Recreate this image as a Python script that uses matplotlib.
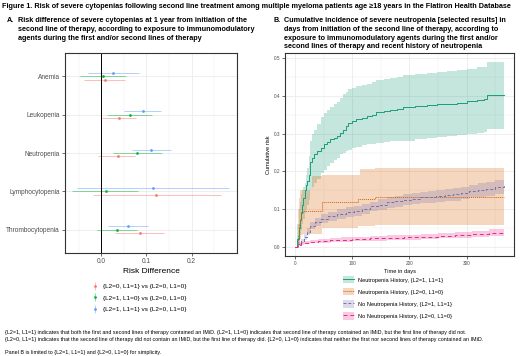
import numpy as np
import matplotlib
matplotlib.use("Agg")
import matplotlib.pyplot as plt
from matplotlib.lines import Line2D
from matplotlib.patches import Patch
from matplotlib.ticker import MultipleLocator

plt.rcParams['font.family'] = ['Liberation Sans', 'DejaVu Sans']

# ---------------- Panel A data ----------------
categories = ["Anemia", "Leukopenia", "Neutropenia", "Lymphocytopenia", "Thrombocytopenia"]
comparisons = ["{L2=0, L1=1} vs {L2=0, L1=0}",
               "{L2=1, L1=0} vs {L2=0, L1=0}",
               "{L2=1, L1=1} vs {L2=0, L1=0}"]
red_est = [0.009, 0.040, 0.036, 0.122, 0.086]
red_lo = [-0.037, 0.001, -0.007, -0.018, 0.031]
red_hi = [0.053, 0.076, 0.075, 0.264, 0.138]
green_est = [0.003, 0.064, 0.080, 0.010, 0.034]
green_lo = [-0.046, 0.012, 0.027, -0.064, -0.010]
green_hi = [0.054, 0.112, 0.135, 0.082, 0.078]
blue_est = [0.027, 0.092, 0.111, 0.114, 0.059]
blue_lo = [-0.030, 0.051, 0.069, -0.053, 0.014]
blue_hi = [0.084, 0.133, 0.155, 0.282, 0.103]

# ---------------- Panel B data ----------------
series_labels = ["Neutropenia History, {L2=1, L1=1}",
                 "Neutropenia History, {L2=0, L1=0}",
                 "No Neutropenia History, {L2=1, L1=1}",
                 "No Neutropenia History, {L2=0, L1=0}"]

nh11_t = [0, 3, 6, 8, 10, 12, 14, 16, 18, 20, 23, 25, 29, 33, 38, 44, 50, 55, 61, 67, 73, 79, 84, 88, 93,
          100, 107, 116, 125, 134, 142, 155, 166, 178, 189, 210, 230, 248, 265, 283, 300, 318, 330, 336, 366]
nh11_est = [0, 0.02, 0.05, 0.07, 0.09, 0.11, 0.13, 0.15, 0.165, 0.175, 0.19, 0.225, 0.235, 0.245, 0.255,
            0.262, 0.272, 0.278, 0.285, 0.29, 0.295, 0.302, 0.31, 0.32, 0.328, 0.333, 0.34, 0.343, 0.347,
            0.35, 0.357, 0.36, 0.363, 0.367, 0.372, 0.374, 0.376, 0.378, 0.38, 0.383, 0.387, 0.39, 0.393,
            0.403, 0.404]
nh11_lo = [0, 0.0, 0.01, 0.03, 0.045, 0.06, 0.075, 0.09, 0.10, 0.11, 0.125, 0.15, 0.16, 0.168, 0.18,
           0.195, 0.205, 0.214, 0.222, 0.23, 0.236, 0.245, 0.25, 0.253, 0.258, 0.262, 0.266, 0.27, 0.272,
           0.274, 0.276, 0.277, 0.28, 0.281, 0.282, 0.285, 0.289, 0.291, 0.293, 0.296, 0.299, 0.302, 0.304,
           0.313, 0.315]
nh11_hi = [0, 0.06, 0.10, 0.12, 0.14, 0.15, 0.16, 0.17, 0.19, 0.21, 0.24, 0.28, 0.30, 0.31, 0.325,
           0.345, 0.355, 0.362, 0.37, 0.378, 0.385, 0.395, 0.405, 0.412, 0.42, 0.422, 0.426, 0.429, 0.432,
           0.437, 0.442, 0.445, 0.448, 0.452, 0.455, 0.458, 0.462, 0.464, 0.467, 0.47, 0.473, 0.476, 0.478,
           0.49, 0.49]

nh00_t = [0, 4, 6, 8, 10, 13, 29, 46, 110, 113, 140, 366]
nh00_est = [0, 0.03, 0.06, 0.075, 0.093, 0.096, 0.096, 0.12, 0.128, 0.128, 0.133, 0.133]
nh00_lo = [0, 0.0, 0.01, 0.02, 0.03, 0.033, 0.035, 0.05, 0.056, 0.056, 0.058, 0.058]
nh00_hi = [0, 0.10, 0.13, 0.15, 0.15, 0.152, 0.188, 0.19, 0.19, 0.207, 0.21, 0.21]

nn11_t = [0, 5, 10, 15, 20, 26, 35, 44, 58, 73, 88, 102, 116, 131, 145, 160, 175, 189, 204, 218, 233,
          247, 262, 276, 290, 305, 320, 335, 350, 366]
nn11_est = [0, 0.008, 0.015, 0.025, 0.04, 0.056, 0.066, 0.074, 0.081, 0.087, 0.092, 0.096, 0.101, 0.107,
            0.112, 0.118, 0.121, 0.125, 0.128, 0.131, 0.133, 0.135, 0.137, 0.139, 0.143, 0.148, 0.151,
            0.154, 0.158, 0.163]
nn11_lo = [0, 0.004, 0.009, 0.017, 0.031, 0.046, 0.055, 0.062, 0.069, 0.075, 0.079, 0.083, 0.088, 0.094,
           0.098, 0.104, 0.106, 0.11, 0.113, 0.116, 0.117, 0.119, 0.121, 0.122, 0.126, 0.131, 0.133,
           0.136, 0.14, 0.144]
nn11_hi = [0, 0.012, 0.021, 0.033, 0.049, 0.066, 0.077, 0.086, 0.093, 0.099, 0.105, 0.109, 0.114, 0.12,
           0.126, 0.132, 0.136, 0.14, 0.143, 0.146, 0.149, 0.151, 0.153, 0.156, 0.16, 0.165, 0.169,
           0.172, 0.176, 0.182]

nn00_t = [0, 3, 6, 10, 15, 25, 40, 60, 80, 100, 130, 160, 190, 220, 250, 280, 310, 340, 366]
nn00_est = [0, 0.003, 0.006, 0.009, 0.011, 0.013, 0.015, 0.017, 0.019, 0.02, 0.022, 0.024, 0.025, 0.027,
            0.029, 0.031, 0.034, 0.037, 0.04]
nn00_lo = [0, 0.001, 0.003, 0.005, 0.007, 0.009, 0.01, 0.012, 0.013, 0.014, 0.016, 0.017, 0.018, 0.02,
           0.022, 0.023, 0.026, 0.029, 0.031]
nn00_hi = [0, 0.005, 0.009, 0.013, 0.015, 0.018, 0.02, 0.022, 0.025, 0.026, 0.028, 0.031, 0.032, 0.034,
           0.037, 0.04, 0.043, 0.046, 0.05]

W, H = 520, 356
fig = plt.figure(figsize=(W / 100, H / 100), dpi=100)
fig.patch.set_facecolor("white")

def fx(px):
    return px / W

def fy(py):
    return 1 - py / H

FRAME = "#333333"
GRID = "#EBEBEB"
TICKC = "#4D4D4D"

def style_axes(ax, tick_fs):
    for s in ax.spines.values():
        s.set_color(FRAME)
        s.set_linewidth(0.8)
    ax.tick_params(axis="both", which="major", length=2, width=0.5, color=FRAME,
                   labelsize=tick_fs, labelcolor=TICKC, pad=1.5)
    ax.tick_params(axis="both", which="minor", length=0)
    ax.grid(True, which="major", color=GRID, linewidth=0.6)
    ax.grid(True, which="minor", color=GRID, linewidth=0.35)
    ax.set_axisbelow(True)

# ---------------- Panel A ----------------
axA = fig.add_axes([fx(65), fy(253), fx(237) - fx(65), fy(53) - fy(253)])
style_axes(axA, 4.7)
ypos = np.arange(1, len(categories) + 1)
cols_A = ["#F8766D", "#00BA38", "#619CFF"]
offs = [0.09, 0.0, -0.09]
groups = [(red_est, red_lo, red_hi), (green_est, green_lo, green_hi), (blue_est, blue_lo, blue_hi)]
for (est, lo, hi), c, o in zip(groups, cols_A, offs):
    est = np.array(est); lo = np.array(lo); hi = np.array(hi)
    axA.errorbar(est, ypos + o, xerr=[est - lo, hi - est], fmt="none", ecolor=c, elinewidth=0.6,
                 alpha=0.55, capsize=0)
    axA.plot(est, ypos + o, "o", color=c, markersize=2.0, markeredgewidth=0)
axA.axvline(0, color="black", linewidth=0.7)
axA.set_xlim(-0.08, 0.30)
axA.set_ylim(5.6, 0.4)
axA.set_yticks(ypos)
axA.set_yticklabels(categories)
axA.set_xticks([0.0, 0.1, 0.2])
axA.set_xticklabels(["0.0", "0.1", "0.2"])
axA.xaxis.set_minor_locator(MultipleLocator(0.05))
axA.set_xlabel("Risk Difference", fontsize=6.0, labelpad=2, color="black")

handlesA = [(Line2D([], [], color=c, marker="|", markersize=6, markeredgewidth=0.6, linestyle="none", alpha=0.55),
             Line2D([], [], color=c, marker="o", markersize=2.0, markeredgewidth=0, linestyle="none"))
            for c in cols_A]
fig.legend(handlesA, comparisons, loc="upper left", bbox_to_anchor=(fx(92), fy(284)),
           frameon=False, fontsize=4.6, handlelength=1.0, handletextpad=0.7, labelspacing=0.9,
           borderpad=0, borderaxespad=0)

# ---------------- Panel B ----------------
axB = fig.add_axes([fx(285), fy(256), fx(514) - fx(285), fy(53) - fy(256)])
style_axes(axB, 3.4)
cols_B = ["#1B9E77", "#D95F02", "#7570B3", "#E7298A"]
styles_B = ["-", (0, (1, 1)), (0, (3, 2)), (0, (4, 3))]
dataB = [(nh11_t, nh11_est, nh11_lo, nh11_hi), (nh00_t, nh00_est, nh00_lo, nh00_hi),
         (nn11_t, nn11_est, nn11_lo, nn11_hi), (nn00_t, nn00_est, nn00_lo, nn00_hi)]
for (t, e, lo, hi), c in zip(dataB, cols_B):
    axB.fill_between(t, lo, hi, step="post", color=c, alpha=0.25, linewidth=0)
for (t, e, lo, hi), c, ls in zip(dataB, cols_B, styles_B):
    axB.plot(t, e, drawstyle="steps-post", color=c, linestyle=ls, linewidth=0.7)
axB.set_xlim(-18.25, 383.25)
axB.set_ylim(-0.0245, 0.5145)
axB.set_xticks([0, 100, 200, 300])
axB.set_yticks([0.0, 0.1, 0.2, 0.3, 0.4, 0.5])
axB.set_yticklabels(["0.0", "0.1", "0.2", "0.3", "0.4", "0.5"])
axB.xaxis.set_minor_locator(MultipleLocator(50))
axB.yaxis.set_minor_locator(MultipleLocator(0.05))
axB.set_xlabel("Time in days", fontsize=4.1, labelpad=2)
axB.set_ylabel("Cumulative risk", fontsize=4.1, labelpad=2)

handlesB = [(Patch(facecolor=c, alpha=0.25, edgecolor="none"),
             Line2D([], [], color=c, linestyle=ls, linewidth=0.7))
            for c, ls in zip(cols_B, styles_B)]
fig.legend(handlesB, series_labels, loc="upper left", bbox_to_anchor=(fx(343), fy(276)),
           frameon=False, fontsize=4.1, handlelength=1.9, handleheight=1.6, handletextpad=0.7,
           labelspacing=0.85, borderpad=0, borderaxespad=0)

# ---------------- Titles and notes ----------------
TFS = 5.2
fig.text(fx(2), fy(6), "Figure 1. Risk of severe cytopenias following second line treatment among multiple "
         "myeloma patients age \u226518 years in the Flatiron Health Database",
         fontsize=TFS, fontweight="bold", va="center", ha="left")

titleA = ["Risk difference of severe cytopenias at 1 year from initiation of the",
          "second line of therapy, according to exposure to immunomodulatory",
          "agents during the first and/or second lines of therapy"]
titleB = ["Cumulative incidence of severe neutropenia [selected results] in",
          "days from initiation of the second line of therapy, according to",
          "exposure to immunomodulatory agents during the first and/or",
          "second lines of therapy and recent history of neutropenia"]
line_y = [20.7, 29.5, 38.2, 46.8]
fig.text(fx(7), fy(line_y[0]), "A.", fontsize=TFS, fontweight="bold", va="center")
for s, yy in zip(titleA, line_y):
    fig.text(fx(18), fy(yy), s, fontsize=TFS, fontweight="bold", va="center")
fig.text(fx(273), fy(line_y[0]), "B.", fontsize=TFS, fontweight="bold", va="center")
for s, yy in zip(titleB, line_y):
    fig.text(fx(284), fy(yy), s, fontsize=TFS, fontweight="bold", va="center")

notes = [("{L2=1, L1=1} indicates that both the first and second lines of therapy contained an IMiD. "
          "{L2=1, L1=0} indicates that second line of therapy contained an IMiD, but the first line of therapy did not.", 332.7),
         ("{L2=0, L1=1} indicates that the second line of therapy did not contain an IMiD, but the first line of therapy did. "
          "{L2=0, L1=0} indicates that neither the first nor second lines of therapy contained an IMiD.", 339.3),
         ("Panel B is limited to {L2=1, L1=1} and {L2=0, L1=0} for simplicity.", 352.3)]
for s, yy in notes:
    fig.text(fx(5), fy(yy), s, fontsize=3.85, va="center", ha="left")

fig.savefig("out.png", dpi=100, facecolor="white")
